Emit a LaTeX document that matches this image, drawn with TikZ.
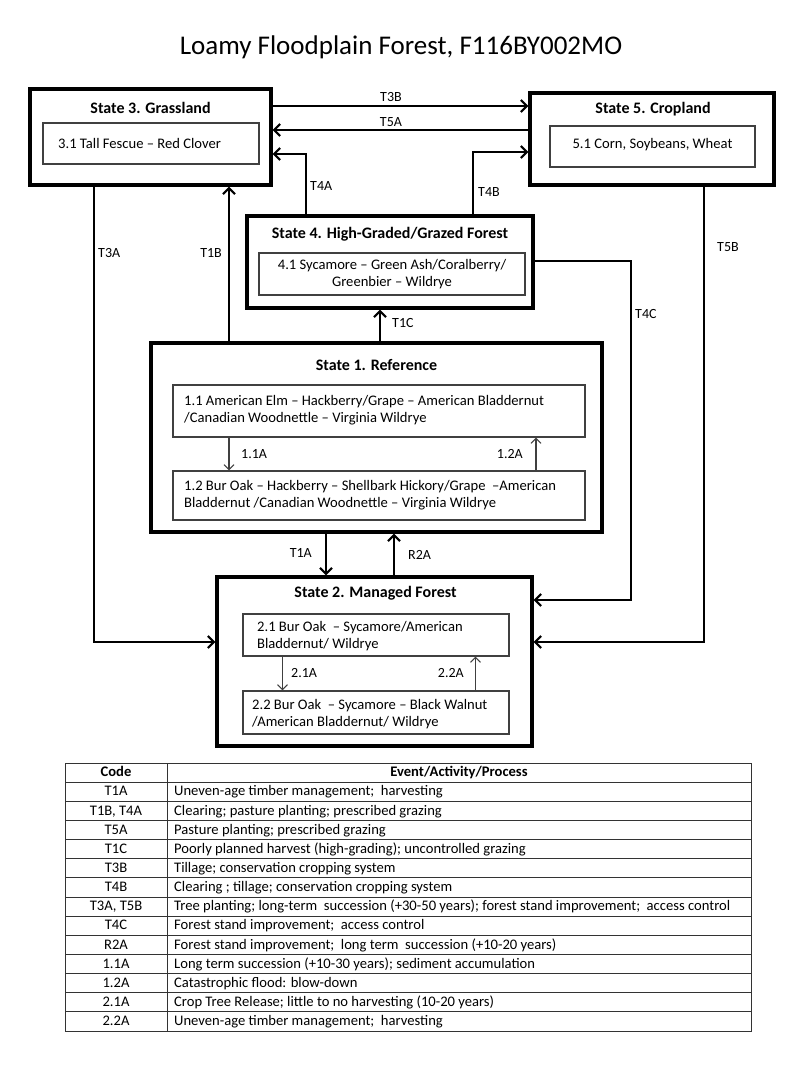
\documentclass[tikz,border=0pt]{standalone}
\usepackage{fontspec}
\setmainfont{Carlito}
\usetikzlibrary{arrows.meta}
\begin{document}
\begin{tikzpicture}[x=1pt,y=-1pt,
  outer/.style={draw=black, line width=3.2pt, inner sep=0pt},
  innerbox/.style={draw=black!75, line width=1.1pt, inner sep=0pt},
  sttitle/.style={font=\fontsize{16}{19}\selectfont\bfseries, inner sep=0pt},
  body/.style={font=\fontsize{14.6}{17}\selectfont, inner sep=0pt},
  lbl/.style={font=\fontsize{14}{16}\selectfont, inner sep=0pt},
  trans/.style={line width=2.2pt, -{Straight Barb[length=6pt,width=12pt]}},
  intrans/.style={draw=black!75, line width=1.1pt, -{Straight Barb[length=5pt,width=10pt]}},
  tcell/.style={font=\fontsize{14.6}{16}\selectfont, inner sep=0pt},
  thead/.style={font=\fontsize{14.6}{16}\selectfont\bfseries, inner sep=0pt},
  tline/.style={draw=black!80, line width=1pt},
]
\useasboundingbox (0,0) rectangle (800,1067);
\fill[white] (0,0) rectangle (800,1067);

% title
\node[font=\fontsize{27}{32}\selectfont, inner sep=0pt] (title) at (401,47) {Loamy Floodplain Forest, F116BY002MO};

% State 3
\node[outer, minimum width=241pt, minimum height=96pt] (s3) at (150.5,137) {};
\node[sttitle] (s3t) at (150.5,108) {State 3. Grassland};
\node[innerbox, minimum width=216pt, minimum height=41pt] (i31) at (151,143.5) {};
\node[body, anchor=west] (i31t) at (58,143) {3.1 Tall Fescue – Red Clover};

% State 5
\node[outer, minimum width=244pt, minimum height=92pt] (s5) at (652,139) {};
\node[sttitle] (s5t) at (653,109) {State 5. Cropland};
\node[innerbox, minimum width=205pt, minimum height=41pt] (i51) at (652.5,146.5) {};
\node[body] (i51t) at (652.5,145) {5.1 Corn, Soybeans, Wheat};

% State 4
\node[outer, minimum width=286pt, minimum height=92pt] (s4) at (390,262) {};
\node[sttitle] (s4t) at (390,234) {State 4. High-Graded/Grazed Forest};
\node[innerbox, minimum width=266pt, minimum height=42pt] (i41) at (392,274) {};
\node[body, align=center] (i41t) at (392,274) {4.1 Sycamore – Green Ash/Coralberry/\\Greenbier – Wildrye};

% State 1
\node[outer, minimum width=451pt, minimum height=189pt] (s1) at (376.5,437.5) {};
\node[sttitle] (s1t) at (376.5,365) {State 1. Reference};
\node[innerbox, minimum width=412pt, minimum height=52pt] (i11) at (379,411) {};
\node[body, anchor=west, align=left] (i11t) at (184,410.5) {1.1 American Elm – Hackberry/Grape – American Bladdernut\\/Canadian Woodnettle – Virginia Wildrye};
\node[innerbox, minimum width=412pt, minimum height=49pt] (i12) at (379,495.5) {};
\node[body, anchor=west, align=left] (i12t) at (184,495.5) {1.2 Bur Oak – Hackberry – Shellbark Hickory/Grape \ –American\\Bladdernut /Canadian Woodnettle – Virginia Wildrye};

% State 2
\node[outer, minimum width=315pt, minimum height=169pt] (s2) at (374.5,661.5) {};
\node[sttitle] (s2t) at (375.5,593) {State 2. Managed Forest};
\node[innerbox, minimum width=266pt, minimum height=42pt] (i21) at (376,635) {};
\node[body, anchor=west, align=left] (i21t) at (257,636) {2.1 Bur Oak \ – Sycamore/American\\Bladdernut/ Wildrye};
\node[innerbox, minimum width=266pt, minimum height=43pt] (i22) at (376,712.5) {};
\node[body, anchor=west, align=left] (i22t) at (252,714.5) {2.2 Bur Oak \ – Sycamore – Black Walnut\\/American Bladdernut/ Wildrye};

% transitions
\draw[trans] (s3.east |- 0,106) -- (s5.west |- 0,106);
\node[lbl] (lT3B) at (391,97) {T3B};
\draw[trans] (s5.west |- 0,130) -- (s3.east |- 0,130);
\node[lbl] (lT5A) at (391,122) {T5A};
\draw[trans] (s4.north -| 306,0) -- (306,154) -- (s3.east |- 0,154);
\node[lbl, anchor=west] (lT4A) at (310,186) {T4A};
\draw[trans] (s4.north -| 473,0) -- (473,152) -- (s5.west |- 0,152);
\node[lbl, anchor=west] (lT4B) at (478,192) {T4B};
\draw[trans] (s3.south -| 94,0) -- (94,642) -- (s2.west |- 0,642);
\node[lbl, anchor=west] (lT3A) at (98,253) {T3A};
\draw[trans] (s1.north -| 229,0) -- (s3.south -| 229,0);
\node[lbl, anchor=east] (lT1B) at (222,253) {T1B};
\draw[trans] (s1.north -| 380,0) -- (s4.south -| 380,0);
\node[lbl, anchor=west] (lT1C) at (392,323) {T1C};
\draw[trans] (s4.east |- 0,261) -- (631,261) -- (631,600) -- (s2.east |- 0,600);
\node[lbl, anchor=west] (lT4C) at (635,314) {T4C};
\draw[trans] (s5.south -| 704,0) -- (704,642) -- (s2.east |- 0,642);
\node[lbl, anchor=west] (lT5B) at (717,247) {T5B};
\draw[trans] (s1.south -| 326,0) -- (s2.north -| 326,0);
\node[lbl, anchor=east] (lT1A) at (312,553) {T1A};
\draw[trans] (s2.north -| 394,0) -- (s1.south -| 394,0);
\node[lbl, anchor=west] (lR2A) at (408,555) {R2A};

\draw[intrans] (i11.south -| 229,0) -- (i12.north -| 229,0);
\node[lbl, anchor=west] (l11A) at (241,454) {1.1A};
\draw[intrans] (i12.north -| 536,0) -- (i11.south -| 536,0);
\node[lbl, anchor=east] (l12A) at (523,454) {1.2A};
\draw[intrans] (i21.south -| 282.5,0) -- (i22.north -| 282.5,0);
\node[lbl, anchor=west] (l21A) at (291,673) {2.1A};
\draw[intrans] (i22.north -| 475.5,0) -- (i21.south -| 475.5,0);
\node[lbl, anchor=east] (l22A) at (464,673) {2.2A};

% table
\def\rh{19.143}
\draw[tline] (65,763) rectangle (751,1031);
\draw[tline] (167,763) -- (167,1031);
\foreach \k in {1,...,13} {
  \draw[tline] (65,763+\k*\rh) -- (751,763+\k*\rh);
}
\node[thead, anchor=base] (hcode) at (116,763+\rh-5.3) {Code};
\node[thead, anchor=base] (hevent) at (459,763+\rh-5.3) {Event/Activity/Process};
\foreach \c/\t [count=\i] in {
  T1A/{Uneven-age timber management; \ harvesting},
  {T1B, T4A}/{Clearing; pasture planting; prescribed grazing},
  T5A/{Pasture planting; prescribed grazing},
  T1C/{Poorly planned harvest (high-grading); uncontrolled grazing},
  T3B/{Tillage; conservation cropping system},
  T4B/{Clearing ; tillage; conservation cropping system},
  {T3A, T5B}/{Tree planting; long-term \ succession (+30-50 years); forest stand improvement; \ access control},
  T4C/{Forest stand improvement; \ access control},
  R2A/{Forest stand improvement; \ long term \ succession (+10-20 years)},
  1.1A/{Long term succession (+10-30 years); sediment accumulation},
  1.2A/{Catastrophic flood: blow-down},
  2.1A/{Crop Tree Release; little to no harvesting (10-20 years)},
  2.2A/{Uneven-age timber management; \ harvesting}} {
  \node[tcell, anchor=base] (c\i) at (116,763+\i*\rh+\rh-5.3) {\c};
  \node[tcell, anchor=base west] (t\i) at (174,763+\i*\rh+\rh-5.3) {\t};
}
\end{tikzpicture}
\end{document}
